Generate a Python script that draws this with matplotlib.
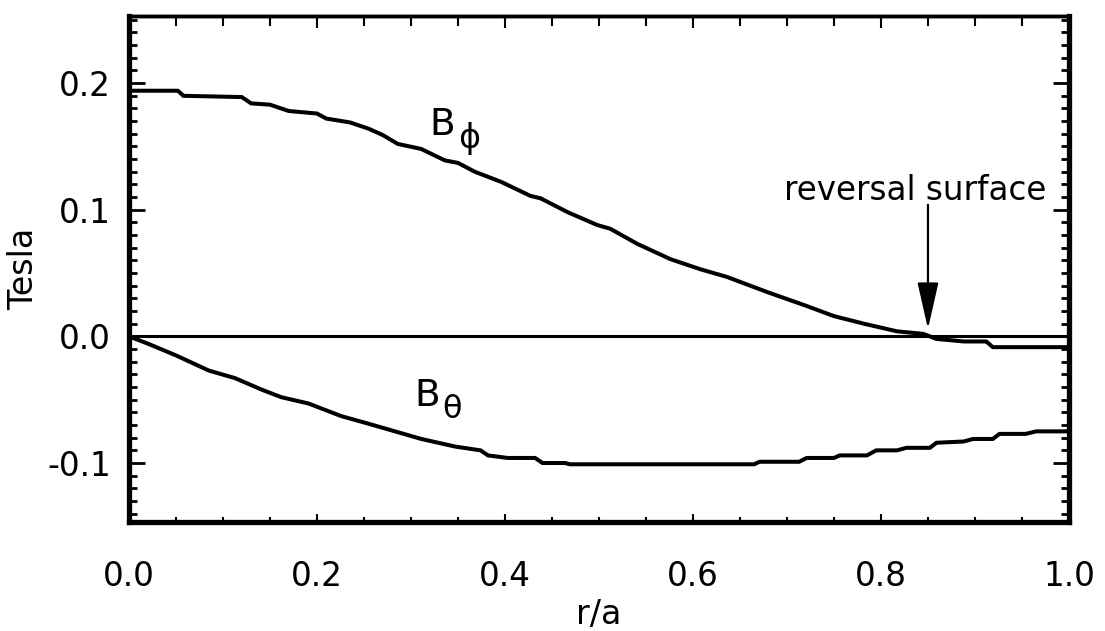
import matplotlib
matplotlib.use("Agg")
import matplotlib.pyplot as plt
from matplotlib.ticker import MultipleLocator

# toroidal field B_phi vs normalised radius
r_phi = [0, 0.052, 0.058, 0.12, 0.13, 0.15, 0.17, 0.20, 0.21, 0.235, 0.255, 0.27,
         0.286, 0.311, 0.336, 0.35, 0.368, 0.396, 0.427, 0.438, 0.467, 0.498, 0.512,
         0.541, 0.576, 0.608, 0.636, 0.679, 0.721, 0.75, 0.782, 0.817, 0.845, 0.859,
         0.888, 0.912, 0.919, 1.0]
b_phi = [0.194, 0.194, 0.190, 0.189, 0.184, 0.183, 0.178, 0.176, 0.172, 0.169, 0.164,
         0.159, 0.152, 0.148, 0.139, 0.137, 0.130, 0.122, 0.111, 0.109, 0.098, 0.088,
         0.085, 0.073, 0.061, 0.053, 0.047, 0.035, 0.024, 0.016, 0.010, 0.004, 0.002,
         -0.002, -0.004, -0.004, -0.0085, -0.0085]

# poloidal field B_theta vs normalised radius
r_theta = [0, 0.021, 0.05, 0.085, 0.113, 0.141, 0.162, 0.191, 0.226, 0.255, 0.283,
           0.311, 0.347, 0.374, 0.382, 0.403, 0.432, 0.44, 0.464, 0.469, 0.665, 0.671,
           0.713, 0.721, 0.75, 0.756, 0.785, 0.795, 0.817, 0.827, 0.852, 0.859, 0.888,
           0.898, 0.919, 0.926, 0.954, 0.965, 1.0]
b_theta = [0, -0.006, -0.015, -0.027, -0.033, -0.042, -0.048, -0.053, -0.063, -0.069,
           -0.075, -0.081, -0.087, -0.090, -0.094, -0.096, -0.096, -0.100, -0.100,
           -0.101, -0.101, -0.099, -0.099, -0.096, -0.096, -0.094, -0.094, -0.090,
           -0.090, -0.088, -0.088, -0.084, -0.083, -0.081, -0.081, -0.077, -0.077,
           -0.075, -0.075]

r_reversal = 0.85

plt.rcParams['font.family'] = ['DejaVu Sans']

fig = plt.figure(figsize=(11.05, 6.31), dpi=100)
ax = fig.add_axes([0.1167, 0.1727, 0.8507, 0.8019])

lw = 2.9
ax.plot(r_phi, b_phi, color='black', lw=lw, solid_joinstyle='miter')
ax.plot(r_theta, b_theta, color='black', lw=lw, solid_joinstyle='miter')
ax.axhline(0, color='black', lw=2.2)

ax.set_xlim(0, 1)
ax.set_ylim(-0.1466, 0.253)

# y axis: labelled majors on the left, ticks on both sides
ax.yaxis.set_major_locator(MultipleLocator(0.1))
ax.yaxis.set_minor_locator(MultipleLocator(0.01))
ax.tick_params(axis='y', which='major', direction='in', length=11.5, width=2,
               left=True, right=True, labelsize=23.5, pad=13)
ax.tick_params(axis='y', which='minor', direction='in', length=5.5, width=2,
               left=True, right=True)
ax.set_yticks([-0.1, 0.0, 0.1, 0.2])
ax.set_yticklabels(['-0.1', '0.0', '0.1', '0.2'])

# x axis: short ticks at the bottom
ax.xaxis.set_major_locator(MultipleLocator(0.2))
ax.xaxis.set_minor_locator(MultipleLocator(0.05))
ax.tick_params(axis='x', which='major', direction='in', length=5.5, width=1.5,
               top=False, labelsize=23.5, pad=27)
ax.tick_params(axis='x', which='minor', direction='in', length=3.5, width=1.5,
               top=False)
ax.xaxis.set_major_formatter(plt.FormatStrFormatter('%.1f'))

# longer ticks along the top edge
top = ax.secondary_xaxis('top')
top.xaxis.set_major_locator(MultipleLocator(0.2))
top.xaxis.set_minor_locator(MultipleLocator(0.05))
top.tick_params(which='major', direction='in', length=8.5, width=1.5, labeltop=False)
top.tick_params(which='minor', direction='in', length=7, width=1.5)
top.spines['top'].set_linewidth(2.5)

for side in ['left', 'right', 'bottom']:
    ax.spines[side].set_linewidth(3.8)
ax.spines['top'].set_linewidth(2.5)

ax.set_xlabel('r/a', fontsize=24, labelpad=4)
ax.set_ylabel('Tesla', fontsize=24, labelpad=5)

# curve labels
ax.text(0.320, 0.159, 'B', fontsize=27, ha='left', va='baseline')
ax.text(0.350, 0.149, '\u03d5', fontsize=24, ha='left', va='baseline')
ax.text(0.304, -0.0547, 'B', fontsize=27, ha='left', va='baseline')
ax.text(0.333, -0.0646, '\u03b8', fontsize=23, ha='left', va='baseline')

# reversal surface marker
ax.text(0.836, 0.108, 'reversal surface', fontsize=23.5, ha='center', va='baseline')
ax.annotate('', xy=(r_reversal, 0.006), xytext=(r_reversal, 0.104),
            arrowprops=dict(arrowstyle='-|>,head_length=1.45,head_width=0.33',
                            mutation_scale=20, lw=1.6, color='black',
                            shrinkA=0, shrinkB=0))

fig.savefig('out.png', dpi=100, facecolor='white')
